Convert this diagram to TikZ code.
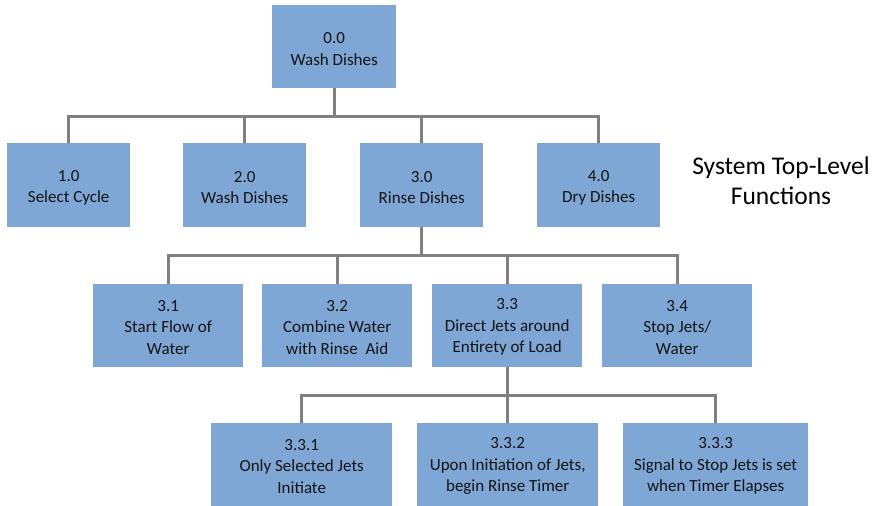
\documentclass[tikz,border=0pt]{standalone}
\usepackage{fontspec}
\setmainfont{Carlito}
\definecolor{boxfill}{RGB}{126,167,214}
\definecolor{linkgray}{RGB}{128,128,128}
\definecolor{textdark}{RGB}{20,20,20}
\begin{document}
\begin{tikzpicture}[x=1pt,y=-1pt,
  fn/.style={draw=none,fill=boxfill,anchor=north west,inner sep=0pt},
  fntext/.style={align=center,text=textdark,inner sep=0pt,yshift=-2.5pt,
    font=\fontsize{17}{21.5}\selectfont},
  link/.style={draw=linkgray,line width=2.6pt}]
\useasboundingbox (0,0) rectangle (876,506);
% level 0
\node[fn,minimum width=124pt,minimum height=83pt,label={[fntext]center:{0.0\\Wash Dishes}}] (n0) at (272,5) {};
% level 1
\node[fn,minimum width=123pt,minimum height=84pt,label={[fntext]center:{1.0\\Select Cycle}}] (n1) at (7,143) {};
\node[fn,minimum width=123pt,minimum height=84pt,label={[fntext]center:{2.0\\Wash Dishes}}] (n2) at (183,143) {};
\node[fn,minimum width=123pt,minimum height=84pt,label={[fntext]center:{3.0\\Rinse Dishes}}] (n3) at (360,143) {};
\node[fn,minimum width=123pt,minimum height=84pt,label={[fntext]center:{4.0\\Dry Dishes}}] (n4) at (537,143) {};
% level 2
\node[fn,minimum width=150pt,minimum height=83pt,label={[fntext,yshift=1pt]center:{3.1\\Start Flow of\\Water}}] (n31) at (93,284) {};
\node[fn,minimum width=150pt,minimum height=83pt,label={[fntext,yshift=1pt]center:{3.2\\Combine Water\\with Rinse\ \ Aid}}] (n32) at (262,284) {};
\node[fn,minimum width=150pt,minimum height=83pt,label={[fntext,yshift=1pt]center:{3.3\\Direct Jets around\\Entirety of Load}}] (n33) at (432,284) {};
\node[fn,minimum width=150pt,minimum height=83pt,label={[fntext,yshift=1pt]center:{3.4\\Stop Jets/\\Water}}] (n34) at (602,284) {};
% level 3
\node[fn,minimum width=181pt,minimum height=83pt,label={[fntext,yshift=1pt]center:{3.3.1\\Only Selected Jets\\Initiate}}] (n331) at (211,423) {};
\node[fn,minimum width=181pt,minimum height=83pt,label={[fntext,yshift=1pt]center:{3.3.2\\Upon Initiation of Jets,\\begin Rinse Timer}}] (n332) at (417,423) {};
\node[fn,minimum width=185pt,minimum height=83pt,label={[fntext,yshift=1pt]center:{3.3.3\\Signal to Stop Jets is set\\when Timer Elapses}}] (n333) at (623,423) {};
% caption
\node[align=center,font=\fontsize{25.5}{30}\selectfont,text=black] (cap) at (781,181) {System Top-Level\\Functions};
% connectors
\draw[link] (n0.south) -- ++(0,28) coordinate (j0);
\draw[link] (n1.north) |- (j0) -| (n4.north);
\draw[link] (n2.north) -- ++(0,-27);
\draw[link] (n3.north) -- ++(0,-27);
\draw[link] (n3.south) -- ++(0,28) coordinate (j1);
\draw[link] (n31.north) |- (j1) -| (n34.north);
\draw[link] (n32.north) -- ++(0,-29);
\draw[link] (n33.north) -- ++(0,-29);
\draw[link] (n33.south) -- ++(0,28) coordinate (j2);
\draw[link] (n331.north) |- (j2) -| (n333.north);
\draw[link] (n332.north) -- ++(0,-28);
\end{tikzpicture}
\end{document}
